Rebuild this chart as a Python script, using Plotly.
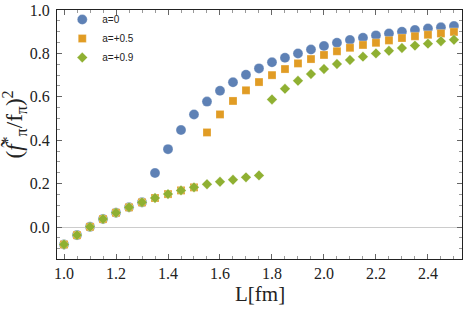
import plotly.graph_objects as go

# x positions (L in fm)
L_all = [1.0, 1.05, 1.1, 1.15, 1.2, 1.25, 1.3, 1.35, 1.4, 1.45, 1.5, 1.55, 1.6, 1.65,
         1.7, 1.75, 1.8, 1.85, 1.9, 1.95, 2.0, 2.05, 2.1, 2.15, 2.2, 2.25, 2.3, 2.35,
         2.4, 2.45, 2.5]

# a = 0
y_a0 = [-0.080, -0.037, 0.001, 0.037, 0.066, 0.091, 0.114, 0.249, 0.359, 0.447, 0.519,
        0.578, 0.628, 0.667, 0.702, 0.731, 0.759, 0.780, 0.800, 0.818, 0.834, 0.849,
        0.862, 0.872, 0.883, 0.892, 0.900, 0.908, 0.915, 0.920, 0.926]

# a = +0.5 : lower branch up to 1.5, then jump
L_a05 = L_all
y_a05 = [-0.080, -0.037, 0.001, 0.037, 0.066, 0.091, 0.114, 0.134, 0.152, 0.169, 0.183,
         0.436, 0.519, 0.581, 0.630, 0.668, 0.700, 0.728, 0.754, 0.774, 0.793, 0.810,
         0.826, 0.839, 0.849, 0.860, 0.871, 0.879, 0.886, 0.892, 0.899]

# a = +0.9 : lower branch up to 1.75, then jump
L_a09 = L_all
y_a09 = [-0.080, -0.037, 0.001, 0.037, 0.066, 0.091, 0.114, 0.134, 0.152, 0.169, 0.183,
         0.197, 0.209, 0.218, 0.229, 0.238, 0.588, 0.637, 0.674, 0.705, 0.728, 0.751,
         0.770, 0.785, 0.800, 0.812, 0.825, 0.836, 0.845, 0.856, 0.863]

x_ticks = [1.0, 1.2, 1.4, 1.6, 1.8, 2.0, 2.2, 2.4]
x_ticklabels = ["1.0", "1.2", "1.4", "1.6", "1.8", "2.0", "2.2", "2.4"]
y_ticks = [0.0, 0.2, 0.4, 0.6, 0.8, 1.0]
y_ticklabels = ["0.0", "0.2", "0.4", "0.6", "0.8", "1.0"]

names = ["a=0", "a=+0.5", "a=+0.9"]
colors = ["#5E81B5", "#E19C24", "#8FB032"]
x_title = "L[fm]"
y_title = "(<i>f̃</i><sup>*</sup><sub>π</sub>/f<sub>π</sub>)<sup>2</sup>"

edge = dict(color="rgba(255,255,255,0.5)", width=0.5)
fig = go.Figure()
fig.add_trace(go.Scatter(x=L_all, y=y_a0, mode="markers", name=names[0],
                         marker=dict(symbol="circle", size=10, color=colors[0], line=edge)))
fig.add_trace(go.Scatter(x=L_a05, y=y_a05, mode="markers", name=names[1],
                         marker=dict(symbol="square", size=8, color=colors[1], line=edge)))
fig.add_trace(go.Scatter(x=L_a09, y=y_a09, mode="markers", name=names[2],
                         marker=dict(symbol="diamond", size=8, color=colors[2], line=edge)))

serif = "Liberation Serif"
fig.update_layout(
    width=463, height=309,
    margin=dict(l=57, r=1, t=10, b=50),
    paper_bgcolor="white", plot_bgcolor="white",
    showlegend=True,
    legend=dict(x=0.013, y=1.02, xanchor="left", yanchor="top",
                bgcolor="rgba(0,0,0,0)", font=dict(family="Liberation Sans", size=10, color="#222"),
                tracegroupgap=0, itemwidth=30),
    xaxis=dict(range=[0.973, 2.531], tickvals=x_ticks, ticktext=x_ticklabels,
               showgrid=False, zeroline=False, showline=True, linecolor="#222", linewidth=1,
               mirror="ticks", ticks="inside", ticklen=5, tickcolor="#666",
               minor=dict(dtick=0.05, tick0=1.0, ticks="inside", ticklen=3, tickcolor="#999"),
               tickfont=dict(family=serif, size=16, color="#222")),
    yaxis=dict(range=[-0.147, 1.0], tickvals=y_ticks, ticktext=y_ticklabels,
               showgrid=False, zeroline=True, zerolinecolor="#cccccc", zerolinewidth=1,
               showline=True, linecolor="#222", linewidth=1,
               mirror="ticks", ticks="inside", ticklen=5, tickcolor="#666",
               minor=dict(dtick=0.05, tick0=0.0, ticks="inside", ticklen=3, tickcolor="#999"),
               tickfont=dict(family=serif, size=16, color="#222"), ticklabelstandoff=3),
    annotations=[
        dict(text=x_title, xref="paper", yref="paper", x=0.5, y=0,
             xanchor="center", yanchor="top", yshift=-21, showarrow=False,
             font=dict(family=serif, size=21, color="#222")),
        dict(text=y_title, xref="paper", yref="paper", x=0, y=0.5, textangle=-90,
             xanchor="center", yanchor="middle", xshift=-43, yshift=10, showarrow=False,
             font=dict(family=serif, size=23, color="#222")),
    ],
)

fig.write_html("out.html", config={"displayModeBar": False},
               post_script="document.body.style.margin='0px';")
